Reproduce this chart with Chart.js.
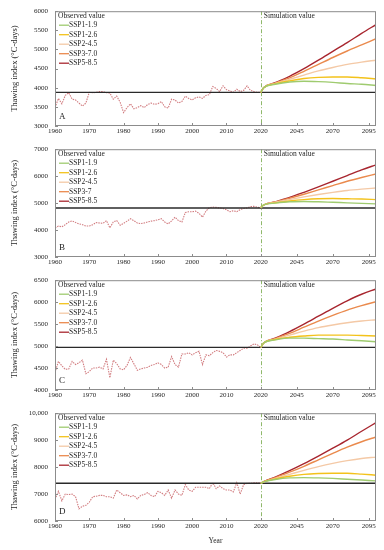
<!DOCTYPE html>
<html>
<head>
<meta charset="utf-8">
<script src="https://cdn.jsdelivr.net/npm/chart.js@4.4.0/dist/chart.umd.min.js"></script>
<style>
  html, body { margin: 0; padding: 0; background: #fff; }
  #quadro { position: relative; width: 384px; height: 550px; }
  canvas { position: absolute; left: 0; }
</style>
</head>
<body>
<div id="quadro">
  <canvas id="painelA" width="384" height="138" style="top:0px"></canvas>
  <canvas id="painelB" width="384" height="131" style="top:138px"></canvas>
  <canvas id="painelC" width="384" height="133" style="top:269px"></canvas>
  <canvas id="painelD" width="384" height="148" style="top:402px"></canvas>
</div>
<script>
// ===== DADOS =====
const anosObs = [];
for (let a = 1960; a <= 2020; a++) anosObs.push(a);
const anosSim = [2020, 2022, 2030, 2040, 2050, 2060, 2070, 2080, 2090, 2100];
const anosTicks = [1960, 1970, 1980, 1990, 2000, 2010, 2020, 2045, 2070, 2095];
const anoCorte = 2020;
const anoFim = 2100;

const cenarios = ['SSP1-1.9', 'SSP1-2.6', 'SSP2-4.5', 'SSP3-7.0', 'SSP5-8.5'];
const cenariosB = ['SSP1-1.9', 'SSP1-2.6', 'SSP2-4.5', 'SSP3-7', 'SSP5-8.5'];
const coresCenarios = ['#9fcb6f', '#f3c21b', '#f4c9a6', '#ea8a4d', '#a8262f'];

// observado 1960-2020
const obsA = [3480,3720,3580,3800,3870,3700,3680,3600,3520,3600,
              3880,3870,3880,3900,3900,3870,3860,3700,3780,3620,
              3350,3480,3580,3450,3480,3530,3480,3560,3600,3570,
              3580,3640,3500,3470,3700,3680,3600,3640,3780,3720,
              3680,3740,3760,3720,3800,3820,4030,3980,3900,4050,
              3950,3920,3880,3960,3900,3930,4050,3930,3900,3880,
              3880];
const obsB = [4080,4150,4120,4200,4300,4340,4280,4230,4200,4150,
              4150,4200,4280,4260,4250,4350,4080,4300,4350,4180,
              4250,4330,4420,4350,4260,4240,4260,4300,4330,4350,
              4380,4420,4300,4230,4340,4480,4350,4300,4650,4680,
              4680,4700,4620,4480,4700,4830,4850,4840,4820,4800,
              4750,4680,4720,4680,4760,4800,4820,4870,4880,4850,
              4820];
const obsC = [4400,4650,4550,4470,4480,4650,4580,4620,4680,4370,
              4420,4500,4500,4520,4480,4700,4280,4680,4600,4480,
              4460,4560,4740,4600,4450,4480,4500,4520,4560,4580,
              4620,4580,4500,4520,4760,4580,4520,4820,4820,4850,
              4800,4850,4880,4580,4800,4780,4850,4900,4880,4850,
              4750,4800,4800,4850,4900,4950,4950,5000,5050,5030,
              4970];
const obsD = [6800,7100,6750,7000,6980,7000,6900,6450,6550,6580,
              6700,6900,6920,6950,6950,6900,6900,6850,7150,7050,
              6950,6970,6900,6950,6820,6950,6980,7050,6950,6900,
              7100,7050,6950,7150,6850,7150,7000,6950,7350,7150,
              7100,7250,7250,7250,7250,7200,7420,7200,7300,7200,
              7150,7150,7080,7420,7000,7350,7400,7400,7420,7420,
              7400];

// linhas de referencia (media observada)
const baseA = 3880, baseB = 4820, baseC = 4970, baseD = 7400;

// simulado por cenario (anosSim)
const simA = [
  [3880, 4000, 4090, 4150, 4170, 4160, 4140, 4110, 4090, 4060],
  [3880, 4000, 4100, 4180, 4240, 4270, 4280, 4280, 4260, 4230],
  [3880, 4000, 4110, 4220, 4330, 4440, 4530, 4610, 4670, 4720],
  [3880, 4000, 4120, 4260, 4430, 4610, 4790, 4960, 5120, 5280],
  [3880, 4000, 4130, 4300, 4500, 4720, 4950, 5180, 5420, 5650]
];
const simB = [
  [4830, 4930, 5000, 5050, 5060, 5050, 5030, 5010, 4990, 4970],
  [4830, 4930, 5010, 5080, 5130, 5160, 5170, 5160, 5150, 5130],
  [4830, 4930, 5030, 5130, 5230, 5320, 5400, 5470, 5520, 5560],
  [4830, 4930, 5040, 5180, 5330, 5490, 5650, 5810, 5950, 6080],
  [4830, 4930, 5050, 5210, 5400, 5600, 5810, 6020, 6230, 6420]
];
const simC = [
  [4970, 5070, 5140, 5180, 5180, 5170, 5160, 5140, 5120, 5100],
  [4970, 5070, 5150, 5200, 5230, 5250, 5250, 5250, 5240, 5230],
  [4970, 5070, 5160, 5250, 5340, 5420, 5480, 5530, 5570, 5600],
  [4970, 5070, 5170, 5290, 5430, 5570, 5700, 5820, 5920, 6010],
  [4970, 5070, 5180, 5330, 5500, 5680, 5860, 6030, 6180, 6300]
];
const simD = [
  [7400, 7450, 7540, 7600, 7610, 7600, 7580, 7550, 7520, 7490],
  [7400, 7450, 7560, 7660, 7730, 7760, 7770, 7770, 7740, 7700],
  [7400, 7450, 7580, 7730, 7880, 8020, 8140, 8240, 8320, 8370],
  [7400, 7460, 7610, 7810, 8030, 8270, 8510, 8740, 8940, 9120],
  [7400, 7460, 7630, 7870, 8130, 8410, 8700, 9000, 9330, 9650]
];

// ===== EIXO X COMPRIMIDO DEPOIS DE 2020 =====
const FATOR_SIM = 0.42;
function paraEixo(ano) {
  return ano <= anoCorte ? ano : anoCorte + (ano - anoCorte) * FATOR_SIM;
}

const FONTE = '"Liberation Serif", "Times New Roman", serif';
const COR_TEXTO = '#262626';

// ===== PLUGIN: moldura, linha 2020, legenda e letras =====
const decoracoes = {
  id: 'decoracoes',
  beforeDatasetsDraw(chart) {
    const { ctx, chartArea: a, scales: { x } } = chart;
    const sx = Math.round(x.getPixelForValue(paraEixo(anoCorte))) + 0.5;
    ctx.save();
    ctx.strokeStyle = '#8fb86a';
    ctx.lineWidth = 1;
    ctx.setLineDash([4, 2, 1, 2]);
    ctx.beginPath();
    ctx.moveTo(sx, a.top);
    ctx.lineTo(sx, a.bottom);
    ctx.stroke();
    ctx.restore();
  },
  afterDatasetsDraw(chart, args, opts) {
    const { ctx, chartArea: a, scales: { x, y } } = chart;
    ctx.save();
    // moldura
    ctx.strokeStyle = '#8c8c8c';
    ctx.lineWidth = 1;
    ctx.strokeRect(a.left + 0.5, a.top + 0.5, a.right - a.left - 1, a.bottom - a.top - 1);
    // ticks para dentro
    ctx.beginPath();
    x.ticks.forEach(t => {
      const px = Math.round(x.getPixelForValue(t.value)) + 0.5;
      ctx.moveTo(px, a.bottom);
      ctx.lineTo(px, a.bottom - 3);
    });
    y.ticks.forEach(t => {
      const py = Math.round(y.getPixelForValue(t.value)) + 0.5;
      ctx.moveTo(a.left, py);
      ctx.lineTo(a.left + 3, py);
    });
    ctx.stroke();

    const sx = x.getPixelForValue(paraEixo(anoCorte));
    ctx.fillStyle = COR_TEXTO;
    ctx.font = '7.5px ' + FONTE;
    ctx.textBaseline = 'middle';
    ctx.textAlign = 'left';
    ctx.fillText('Observed value', a.left + 3, a.top + 5);
    ctx.fillText('Simulation value', sx + 3, a.top + 5);

    // legenda dos cenarios
    chart.data.datasets.forEach((ds, i) => {
      if (!ds.legendaSim) return;
      const ly = a.top + 14 + (ds.legendaSim - 1) * 9.5;
      ctx.strokeStyle = ds.borderColor;
      ctx.lineWidth = 1.3;
      ctx.beginPath();
      ctx.moveTo(a.left + 4, ly);
      ctx.lineTo(a.left + 14, ly);
      ctx.stroke();
      ctx.fillText(ds.label, a.left + 14, ly);
    });

    // letra do painel
    ctx.font = '9px ' + FONTE;
    ctx.fillText(opts.letra, a.left + 4, a.bottom - 9);
    ctx.restore();
  }
};

// ===== CRIAR PAINEL =====
function criarPainel(canvasId, p) {
  const ctx = document.getElementById(canvasId).getContext('2d');

  const datasets = [];
  datasets.push({
    label: 'Reference',
    data: [{ x: paraEixo(1960), y: p.base }, { x: paraEixo(anoFim), y: p.base }],
    borderColor: '#2a2a2a',
    borderWidth: 1.4,
    pointRadius: 0,
    order: 1
  });
  datasets.push({
    label: 'Observed value',
    data: anosObs.map((ano, i) => ({ x: paraEixo(ano), y: p.obs[i] })),
    borderColor: '#d27d80',
    borderWidth: 1.1,
    borderDash: [1.5, 1],
    pointRadius: 0,
    tension: 0,
    order: 2
  });
  p.sim.forEach((serie, k) => {
    datasets.push({
      label: p.nomes[k],
      data: anosSim.map((ano, i) => ({ x: paraEixo(ano), y: serie[i] })),
      borderColor: coresCenarios[k],
      borderWidth: 1.4,
      pointRadius: 0,
      cubicInterpolationMode: 'monotone',
      legendaSim: k + 1,
      order: 0
    });
  });

  return new Chart(ctx, {
    type: 'line',
    data: { datasets },
    options: {
      responsive: false,
      animation: false,
      layout: { padding: { top: p.topo, right: 8, left: 0, bottom: 0 } },
      plugins: {
        legend: { display: false },
        tooltip: { enabled: false },
        decoracoes: { letra: p.letra }
      },
      scales: {
        x: {
          type: 'linear',
          min: paraEixo(1960),
          max: paraEixo(anoFim),
          grid: { display: false, drawTicks: false },
          border: { display: false },
          afterBuildTicks: (s) => { s.ticks = anosTicks.map(v => ({ value: paraEixo(v) })); },
          afterFit: (s) => { s.height = p.alturaX; },
          ticks: {
            autoSkip: false,
            maxRotation: 0,
            padding: 1,
            color: COR_TEXTO,
            font: { family: FONTE, size: 7 },
            callback: (v, i) => anosTicks[i]
          },
          title: {
            display: !!p.tituloX,
            text: p.tituloX || '',
            color: COR_TEXTO,
            font: { family: FONTE, size: 7.5 },
            padding: { top: 0, bottom: 4 }
          }
        },
        y: {
          min: p.yMin,
          max: p.yMax,
          grid: { display: false, drawTicks: false },
          border: { display: false },
          afterFit: (s) => { s.width = 55; },
          ticks: {
            stepSize: p.yPasso,
            padding: 7,
            color: COR_TEXTO,
            font: { family: FONTE, size: 7 },
            callback: (v) => v >= 10000 ? v.toLocaleString('en-US') : String(v)
          },
          title: {
            display: true,
            text: 'Thawing index (°C-days)',
            color: COR_TEXTO,
            font: { family: FONTE, size: 8.5 },
            padding: { top: 10, bottom: 0 }
          }
        }
      }
    },
    plugins: [decoracoes]
  });
}

document.addEventListener('DOMContentLoaded', function() {
  criarPainel('painelA', { letra: 'A', obs: obsA, sim: simA, base: baseA, nomes: cenarios,
    yMin: 3000, yMax: 6000, yPasso: 500, topo: 10, alturaX: 12 });
  criarPainel('painelB', { letra: 'B', obs: obsB, sim: simB, base: baseB, nomes: cenariosB,
    yMin: 3000, yMax: 7000, yPasso: 1000, topo: 7, alturaX: 12 });
  criarPainel('painelC', { letra: 'C', obs: obsC, sim: simC, base: baseC, nomes: cenarios,
    yMin: 4000, yMax: 6500, yPasso: 500, topo: 6, alturaX: 12 });
  criarPainel('painelD', { letra: 'D', obs: obsD, sim: simD, base: baseD, nomes: cenarios,
    yMin: 6000, yMax: 10000, yPasso: 1000, topo: 8, alturaX: 29, tituloX: 'Year' });
});
</script>
</body>
</html>
